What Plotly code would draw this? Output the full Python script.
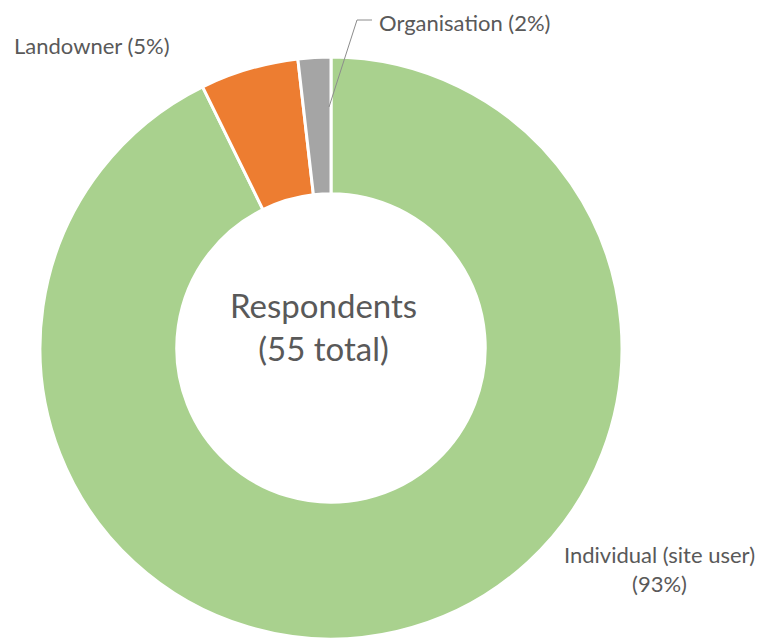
import plotly.graph_objects as go

categories = ["Individual (site user)", "Landowner", "Organisation"]
counts = [51, 3, 1]
pct_labels = ["93%", "5%", "2%"]
colors = ["#A9D18E", "#ED7D31", "#A5A5A5"]
center_text = "Respondents<br>(55 total)"

W, H = 760, 639
FONT = "Lato, 'Open Sans', sans-serif"
GREY = "#595959"


def px(x):
    return x / W


def py(y):
    return 1 - y / H


fig = go.Figure(go.Pie(
    labels=categories,
    values=counts,
    hole=0.53,
    sort=False,
    direction="clockwise",
    rotation=0,
    marker=dict(colors=colors, line=dict(color="white", width=3)),
    textinfo="none",
    hoverinfo="label+percent",
    showlegend=False,
    domain=dict(x=[px(40), px(622)], y=[0.0, 582 / H]),
))

fig.add_annotation(x=px(323), y=py(326), xref="paper", yref="paper",
                   xanchor="center", yanchor="middle",
                   text=center_text, showarrow=False,
                   font=dict(family=FONT, size=33, color=GREY), align="center")

fig.add_annotation(x=px(12), y=py(45), xref="paper", yref="paper",
                   xanchor="left", yanchor="middle",
                   text=f"{categories[1]} ({pct_labels[1]})", showarrow=False,
                   font=dict(family=FONT, size=22, color=GREY))
fig.add_annotation(x=px(377), y=py(23), xref="paper", yref="paper",
                   xanchor="left", yanchor="middle",
                   text=f"{categories[2]} ({pct_labels[2]})", showarrow=False,
                   font=dict(family=FONT, size=22, color=GREY))
fig.add_annotation(x=px(659), y=py(569), xref="paper", yref="paper",
                   xanchor="center", yanchor="middle",
                   text=f"{categories[0]}<br>({pct_labels[0]})", showarrow=False,
                   font=dict(family=FONT, size=22, color=GREY), align="center")

# leader line for the small slice label
fig.add_shape(type="path", xref="paper", yref="paper",
              path=f"M {px(329)} {py(107)} L {px(357)} {py(20)} L {px(372)} {py(20)}",
              line=dict(color="#8C8C8C", width=1))

fig.update_layout(width=W, height=H, margin=dict(l=0, r=0, t=0, b=0),
                  paper_bgcolor="white", plot_bgcolor="white")

fig.write_html("out.html", config={"displayModeBar": False},
               post_script="document.body.style.margin='0';")
